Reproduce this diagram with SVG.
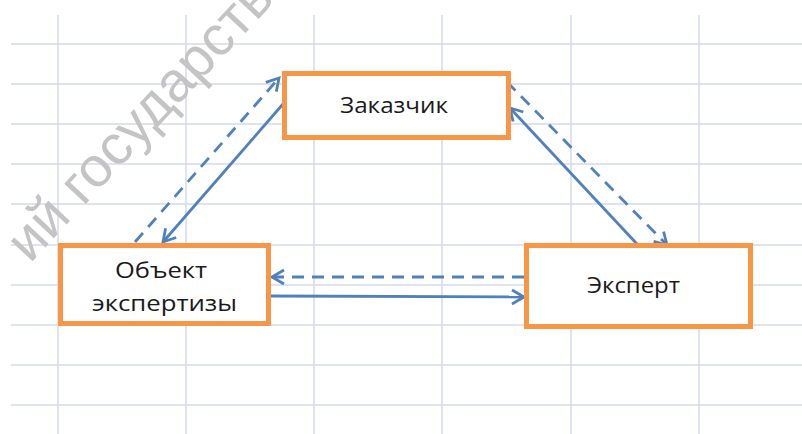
<svg xmlns="http://www.w3.org/2000/svg" width="802" height="434" viewBox="0 0 802 434">
<style>
.grid line{stroke:#d3daea;stroke-width:1.5}
.box{fill:#ffffff;stroke:#f79646;stroke-width:5}
.lbl{font-family:"Open Sans","Liberation Sans",sans-serif;font-size:22px;fill:#1a1a1a;text-anchor:middle}
.c{stroke:#4f81bd;stroke-width:2.8;fill:none}
.d{stroke-dasharray:12 8}
.wm{font-family:"Liberation Sans","DejaVu Sans",sans-serif;font-size:56px;fill:#c4c4c4}
</style>
<defs>
<marker id="ah" markerUnits="userSpaceOnUse" markerWidth="20" markerHeight="20" viewBox="-14 -10 20 20" refX="0" refY="0" orient="auto">
<path d="M -12 -7 L 0 0 L -12 7" fill="none" stroke="#4f81bd" stroke-width="2.8"/>
</marker>
</defs>
<rect width="802" height="434" fill="#ffffff"/>
<g class="grid">
<line x1="58" y1="15" x2="58" y2="434"/>
<line x1="186" y1="15" x2="186" y2="434"/>
<line x1="314" y1="15" x2="314" y2="434"/>
<line x1="442" y1="15" x2="442" y2="434"/>
<line x1="571" y1="15" x2="571" y2="434"/>
<line x1="699" y1="15" x2="699" y2="434"/>
<line x1="11" y1="44" x2="802" y2="44"/>
<line x1="11" y1="84" x2="802" y2="84"/>
<line x1="11" y1="124" x2="802" y2="124"/>
<line x1="11" y1="164" x2="802" y2="164"/>
<line x1="11" y1="204" x2="802" y2="204"/>
<line x1="11" y1="245" x2="802" y2="245"/>
<line x1="11" y1="285" x2="802" y2="285"/>
<line x1="11" y1="325" x2="802" y2="325"/>
<line x1="11" y1="365" x2="802" y2="365"/>
<line x1="11" y1="405" x2="802" y2="405"/>
</g>
<text class="wm" transform="translate(30,264) rotate(-47)">ий государстве</text>
<g id="connectors">
<line class="c" x1="283" y1="104" x2="163" y2="242" marker-end="url(#ah)"/>
<line class="c d" x1="135" y1="242" x2="279" y2="78" marker-end="url(#ah)"/>
<line class="c" x1="637" y1="244" x2="510" y2="108" marker-end="url(#ah)"/>
<line class="c d" x1="507" y1="82" x2="667" y2="245" marker-end="url(#ah)"/>
<line class="c d" x1="524" y1="277" x2="272" y2="277" marker-end="url(#ah)"/>
<line class="c" x1="271" y1="296" x2="524" y2="297" marker-end="url(#ah)"/>
</g>
<g id="zakazchik">
<rect class="box" x="284.5" y="73.5" width="224" height="64"/>
<text class="lbl" x="394" y="113" textLength="108" lengthAdjust="spacingAndGlyphs">Заказчик</text>
</g>
<g id="obekt">
<rect class="box" x="60.5" y="245.5" width="208" height="78"/>
<text class="lbl" x="161" y="278" textLength="92" lengthAdjust="spacingAndGlyphs">Объект</text>
<text class="lbl" x="164.5" y="311" textLength="145" lengthAdjust="spacingAndGlyphs">экспертизы</text>
</g>
<g id="ekspert">
<rect class="box" x="526.5" y="245.5" width="224" height="81"/>
<text class="lbl" x="633.5" y="293" textLength="93" lengthAdjust="spacingAndGlyphs">Эксперт</text>
</g>
</svg>
